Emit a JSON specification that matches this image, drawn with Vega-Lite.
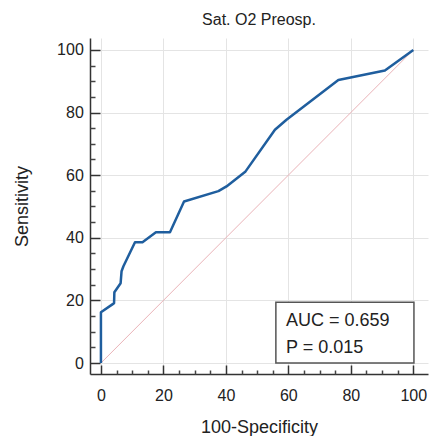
{
  "$schema": "https://vega.github.io/schema/vega-lite/v6.json",
  "width": 338,
  "height": 336,
  "autosize": "none",
  "padding": {"left": 90, "top": 38, "right": 1, "bottom": 62},
  "background": "white",
  "config": {
    "font": "Liberation Sans",
    "view": {"stroke": null},
    "axis": {"labelFont": "Liberation Sans", "titleFont": "Liberation Sans", "labelColor": "#222", "titleColor": "#222", "titleFontWeight": "normal"}
  },
  "title": {"text": "Sat. O2 Preosp.", "fontSize": 16, "fontWeight": "normal", "color": "#222", "font": "Liberation Sans", "anchor": "middle", "baseline": "alphabetic", "offset": -3},
  "datasets": {
    "roc": [
      {"x": 0, "y": 0},
      {"x": 0, "y": 16.2},
      {"x": 3.9, "y": 18.9},
      {"x": 4.2, "y": 19.1},
      {"x": 4.3, "y": 22.6},
      {"x": 6.3, "y": 25.5},
      {"x": 6.6, "y": 29.3},
      {"x": 7.2, "y": 30.9},
      {"x": 10.9, "y": 38.6},
      {"x": 13.3, "y": 38.6},
      {"x": 17.6, "y": 41.8},
      {"x": 22.1, "y": 41.8},
      {"x": 26.6, "y": 51.6},
      {"x": 37.6, "y": 54.9},
      {"x": 40.2, "y": 56.4},
      {"x": 46.3, "y": 61.2},
      {"x": 55.7, "y": 74.5},
      {"x": 59.4, "y": 77.7},
      {"x": 76.0, "y": 90.4},
      {"x": 90.9, "y": 93.4},
      {"x": 100, "y": 100}
    ],
    "diag": [{"x": 0, "y": 0}, {"x": 100, "y": 100}],
    "box": [{"x": 56.0, "x2": 100.2, "y": 0, "y2": 19.4}],
    "stats": [
      {"label": "AUC = 0.659", "x": 59.25, "y": 11.7},
      {"label": "P = 0.015", "x": 59.25, "y": 3.3}
    ]
  },
  "resolve": {"axis": {"x": "independent", "y": "independent"}},
  "layer": [
    {
      "data": {"name": "diag"},
      "mark": {"type": "line", "color": "#eab3b8", "strokeWidth": 1},
      "encoding": {
        "x": {
          "field": "x", "type": "quantitative",
          "scale": {"domain": [-3.5, 104.7], "nice": false, "zero": false},
          "axis": {
            "orient": "bottom",
            "title": "100-Specificity", "titleFontSize": 18, "titlePadding": 15,
            "values": [0, 20, 40, 60, 80, 100],
            "labelFontSize": 16, "labelPadding": 22.7, "labelFlush": false,
            "domainColor": "#333", "domainWidth": 1.5,
            "tickColor": "#333", "tickWidth": 1.5, "tickSize": -9,
            "grid": true, "gridColor": "#e4e4e4", "gridWidth": 1
          }
        },
        "y": {
          "field": "y", "type": "quantitative",
          "scale": {"domain": [-3.5, 103.8], "nice": false, "zero": false},
          "axis": {
            "orient": "left",
            "title": "Sensitivity", "titleFontSize": 18, "titlePadding": 25,
            "values": [0, 20, 40, 60, 80, 100],
            "labelFontSize": 16, "labelPadding": 16.7, "labelFlush": false,
            "domainColor": "#333", "domainWidth": 1.5,
            "tickColor": "#333", "tickWidth": 1.5, "tickSize": -10,
            "grid": true, "gridColor": "#e4e4e4", "gridWidth": 1
          }
        }
      }
    },
    {
      "data": {"name": "roc"},
      "mark": {"type": "line", "color": "#1f5e9e", "strokeWidth": 2.5, "strokeJoin": "round"},
      "encoding": {
        "x": {
          "field": "x", "type": "quantitative",
          "axis": {
            "orient": "bottom", "title": null, "labels": false, "domain": false, "grid": false,
            "values": [5, 10, 15, 25, 30, 35, 45, 50, 55, 65, 70, 75, 85, 90, 95],
            "tickColor": "#444", "tickWidth": 1.5, "tickSize": -4
          }
        },
        "y": {
          "field": "y", "type": "quantitative",
          "axis": {
            "orient": "left", "title": null, "labels": false, "domain": false, "grid": false,
            "values": [5, 10, 15, 25, 30, 35, 45, 50, 55, 65, 70, 75, 85, 90, 95],
            "tickColor": "#444", "tickWidth": 1.5, "tickSize": -5
          }
        },
        "order": {"field": "y", "type": "quantitative"}
      }
    },
    {
      "data": {"name": "box"},
      "mark": {"type": "rect", "fill": "white", "stroke": "#555", "strokeWidth": 1.5},
      "encoding": {
        "x": {"field": "x", "type": "quantitative", "axis": null},
        "x2": {"field": "x2"},
        "y": {"field": "y", "type": "quantitative", "axis": null},
        "y2": {"field": "y2"}
      }
    },
    {
      "data": {"name": "stats"},
      "mark": {"type": "text", "align": "left", "baseline": "alphabetic", "fontSize": 18, "color": "#222", "font": "Liberation Sans"},
      "encoding": {
        "x": {"field": "x", "type": "quantitative", "axis": null},
        "y": {"field": "y", "type": "quantitative", "axis": null},
        "text": {"field": "label"}
      }
    }
  ]
}
